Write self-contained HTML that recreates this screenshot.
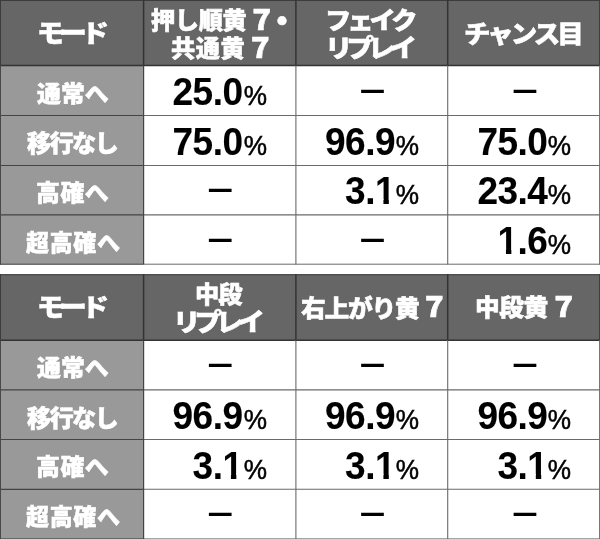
<!DOCTYPE html>
<html lang="ja"><head><meta charset="utf-8"><title>モード移行率</title><style>
html,body{margin:0;padding:0;background:#fff;}
body{width:600px;height:539px;position:relative;overflow:hidden;font-family:"Liberation Sans","Noto Sans CJK JP",sans-serif;}
svg{position:absolute;left:0;top:0;}
.c{position:absolute;left:0;top:0;}
.j{position:absolute;white-space:nowrap;line-height:1;color:#fff;font-family:"Noto Sans CJK JP","Liberation Sans",sans-serif;font-weight:900;-webkit-text-stroke:0.55px #fff;}
.v{position:absolute;white-space:nowrap;line-height:1;color:#000;font-family:"Liberation Sans","Noto Sans CJK JP",sans-serif;font-weight:700;font-size:37px;letter-spacing:-0.5px;text-align:right;-webkit-text-stroke:0.1px #000;transform:scaleY(1.035);transform-origin:100% 50%;}
.v i{font-style:normal;font-weight:400;-webkit-text-stroke:0.5px #000;display:inline-block;transform:scale(0.97,0.966);transform-origin:100% 50%;font-size:27px;letter-spacing:0;margin-left:0.1px;}
.v b{display:inline-block;font-weight:inherit;clip-path:polygon(0 0,13.9px 0,13.9px 100%,8.5px 100%,8.5px 25.7px,0 25.7px);}
.m{position:absolute;white-space:nowrap;line-height:1;color:#000;font-family:"Noto Sans CJK JP",sans-serif;font-weight:700;font-size:32px;text-align:center;width:60px;margin-left:-30px;}
</style></head><body>
<svg width="600" height="539" viewBox="0 0 600 539">
<rect x="0" y="-0.1" width="600" height="65.6" fill="#666"/>
<rect x="0" y="65.5" width="143.6" height="199.1" fill="#999"/>
<line x1="0" y1="0.4" x2="600" y2="0.4" stroke="#3c3c3c" stroke-width="1.1"/>
<line x1="0" y1="65.5" x2="600" y2="65.5" stroke="#333" stroke-width="1.5"/>
<line x1="0" y1="115.5" x2="143.6" y2="115.5" stroke="#444" stroke-width="1.2"/>
<line x1="143.6" y1="115.5" x2="600" y2="115.5" stroke="#6a6a6a" stroke-width="1.1"/>
<line x1="0" y1="165.5" x2="143.6" y2="165.5" stroke="#444" stroke-width="1.2"/>
<line x1="143.6" y1="165.5" x2="600" y2="165.5" stroke="#6a6a6a" stroke-width="1.1"/>
<line x1="0" y1="214.9" x2="143.6" y2="214.9" stroke="#444" stroke-width="1.2"/>
<line x1="143.6" y1="214.9" x2="600" y2="214.9" stroke="#6a6a6a" stroke-width="1.1"/>
<line x1="0" y1="264.2" x2="143.6" y2="264.2" stroke="#484848" stroke-width="1.0"/>
<line x1="143.6" y1="264.2" x2="600" y2="264.2" stroke="#6a6a6a" stroke-width="1.0"/>
<line x1="0.5" y1="-0.1" x2="0.5" y2="65.5" stroke="#3c3c3c" stroke-width="1.0"/>
<line x1="0.5" y1="65.5" x2="0.5" y2="264.6" stroke="#484848" stroke-width="1.0"/>
<line x1="143.6" y1="-0.1" x2="143.6" y2="65.5" stroke="#333" stroke-width="1.5"/>
<line x1="143.6" y1="65.5" x2="143.6" y2="264.6" stroke="#444" stroke-width="1.2"/>
<line x1="295.9" y1="-0.1" x2="295.9" y2="65.5" stroke="#333" stroke-width="1.5"/>
<line x1="295.9" y1="65.5" x2="295.9" y2="264.6" stroke="#6a6a6a" stroke-width="1.1"/>
<line x1="447.7" y1="-0.1" x2="447.7" y2="65.5" stroke="#333" stroke-width="1.5"/>
<line x1="447.7" y1="65.5" x2="447.7" y2="264.6" stroke="#6a6a6a" stroke-width="1.1"/>
<line x1="599.6" y1="-0.1" x2="599.6" y2="65.5" stroke="#3c3c3c" stroke-width="1.0"/>
<line x1="599.6" y1="65.5" x2="599.6" y2="264.6" stroke="#6a6a6a" stroke-width="1.0"/>
<rect x="0" y="274.2" width="600" height="66.0" fill="#666"/>
<rect x="0" y="340.2" width="143.6" height="199.1" fill="#999"/>
<line x1="0" y1="274.7" x2="600" y2="274.7" stroke="#3c3c3c" stroke-width="1.1"/>
<line x1="0" y1="340.2" x2="600" y2="340.2" stroke="#333" stroke-width="1.5"/>
<line x1="0" y1="389.9" x2="143.6" y2="389.9" stroke="#444" stroke-width="1.2"/>
<line x1="143.6" y1="389.9" x2="600" y2="389.9" stroke="#6a6a6a" stroke-width="1.1"/>
<line x1="0" y1="439.5" x2="143.6" y2="439.5" stroke="#444" stroke-width="1.2"/>
<line x1="143.6" y1="439.5" x2="600" y2="439.5" stroke="#6a6a6a" stroke-width="1.1"/>
<line x1="0" y1="489.3" x2="143.6" y2="489.3" stroke="#444" stroke-width="1.2"/>
<line x1="143.6" y1="489.3" x2="600" y2="489.3" stroke="#6a6a6a" stroke-width="1.1"/>
<line x1="0" y1="538.9" x2="143.6" y2="538.9" stroke="#484848" stroke-width="1.0"/>
<line x1="143.6" y1="538.9" x2="600" y2="538.9" stroke="#6a6a6a" stroke-width="1.0"/>
<line x1="0.5" y1="274.2" x2="0.5" y2="340.2" stroke="#3c3c3c" stroke-width="1.0"/>
<line x1="0.5" y1="340.2" x2="0.5" y2="539.3" stroke="#484848" stroke-width="1.0"/>
<line x1="143.6" y1="274.2" x2="143.6" y2="340.2" stroke="#333" stroke-width="1.5"/>
<line x1="143.6" y1="340.2" x2="143.6" y2="539.3" stroke="#444" stroke-width="1.2"/>
<line x1="295.9" y1="274.2" x2="295.9" y2="340.2" stroke="#333" stroke-width="1.5"/>
<line x1="295.9" y1="340.2" x2="295.9" y2="539.3" stroke="#6a6a6a" stroke-width="1.1"/>
<line x1="447.7" y1="274.2" x2="447.7" y2="340.2" stroke="#333" stroke-width="1.5"/>
<line x1="447.7" y1="340.2" x2="447.7" y2="539.3" stroke="#6a6a6a" stroke-width="1.1"/>
<line x1="599.6" y1="274.2" x2="599.6" y2="340.2" stroke="#3c3c3c" stroke-width="1.0"/>
<line x1="599.6" y1="340.2" x2="599.6" y2="539.3" stroke="#6a6a6a" stroke-width="1.0"/>
</svg>
<div class="c"><span class="j" style="left:37.0px;top:19px;font-size:25px;letter-spacing:-4.73px;transform:scaleX(1.1);transform-origin:0 0">モード</span></div>
<div class="c"><span class="j" style="left:150.6px;top:8px;font-size:23.3px;letter-spacing:-0.37px;transform:scaleX(1.04);transform-origin:0 0">押し順黄</span><span class="j" style="left:247.5px;top:4px;font-size:28.5px">７</span><span class="j" style="left:266.5px;top:3px;font-size:31px">・</span><br><span class="j" style="left:171.0px;top:36px;font-size:23.3px;letter-spacing:0.56px;transform:scaleX(1.04);transform-origin:0 0">共通黄</span><span class="j" style="left:246.0px;top:32px;font-size:28.5px">７</span></div>
<div class="c"><span class="j" style="left:325.0px;top:7px;font-size:24.0px;letter-spacing:-3.73px;transform:scaleX(1.1);transform-origin:0 0">フェイク</span><br><span class="j" style="left:325.0px;top:34px;font-size:25px;letter-spacing:-5.48px;transform:scaleX(1.1);transform-origin:0 0">リプレイ</span></div>
<div class="c"><span class="j" style="left:464.0px;top:21px;font-size:24.5px;letter-spacing:-2.75px;transform:scaleX(1.08);transform-origin:0 0">チャンス目</span></div>
<div class="c"><span class="j" style="left:37.0px;top:81px;font-size:23.0px;transform:scaleX(1.04);transform-origin:0 0">通常へ</span></div>
<div class="c"><span class="j" style="left:27.0px;top:131px;font-size:23.3px;letter-spacing:-1.64px;transform:scaleX(1.04);transform-origin:0 0">移行なし</span></div>
<div class="c"><span class="j" style="left:36.0px;top:180px;font-size:23.0px;letter-spacing:0.48px;transform:scaleX(1.04);transform-origin:0 0">高確へ</span></div>
<div class="c"><span class="j" style="left:26.0px;top:230px;font-size:23.0px;letter-spacing:0.67px">超高確へ</span></div>
<div class="v" style="right:333.4px;top:74.1px">25.0<i>%</i></div>
<div class="m" style="left:372.6px;top:72.7px">－</div>
<div class="m" style="left:525.0px;top:72.7px">－</div>
<div class="v" style="right:333.4px;top:123.7px">75.0<i>%</i></div>
<div class="v" style="right:180.9px;top:123.7px">96.9<i>%</i></div>
<div class="v" style="right:28.5px;top:123.7px">75.0<i>%</i></div>
<div class="m" style="left:220.3px;top:171.9px">－</div>
<div class="v" style="right:180.9px;top:173.3px">3.<b>1</b><i>%</i></div>
<div class="v" style="right:28.5px;top:173.3px">23.4<i>%</i></div>
<div class="m" style="left:220.3px;top:221.5px">－</div>
<div class="m" style="left:372.6px;top:221.5px">－</div>
<div class="v" style="right:28.5px;top:222.9px"><b>1</b>.6<i>%</i></div>
<div class="c"><span class="j" style="left:37.0px;top:293px;font-size:25px;letter-spacing:-4.73px;transform:scaleX(1.1);transform-origin:0 0">モード</span></div>
<div class="c"><span class="j" style="left:195.0px;top:282px;font-size:23.3px;letter-spacing:-1.0px;transform:scaleX(1.04);transform-origin:0 0">中段</span><br><span class="j" style="left:173.0px;top:308px;font-size:25px;letter-spacing:-5.48px;transform:scaleX(1.1);transform-origin:0 0">リプレイ</span></div>
<div class="c"><span class="j" style="left:301.0px;top:295px;font-size:23.8px;letter-spacing:-1.22px;transform:scaleX(1.04);transform-origin:0 0">右上がり黄</span><span class="j" style="left:420.0px;top:291px;font-size:28.5px">７</span></div>
<div class="c"><span class="j" style="left:475.0px;top:294px;font-size:23.8px;letter-spacing:-0.46px;transform:scaleX(1.04);transform-origin:0 0">中段黄</span><span class="j" style="left:549.5px;top:291px;font-size:28.5px">７</span></div>
<div class="c"><span class="j" style="left:37.0px;top:355px;font-size:23.0px;transform:scaleX(1.04);transform-origin:0 0">通常へ</span></div>
<div class="c"><span class="j" style="left:27.0px;top:406px;font-size:23.3px;letter-spacing:-1.64px;transform:scaleX(1.04);transform-origin:0 0">移行なし</span></div>
<div class="c"><span class="j" style="left:36.0px;top:454px;font-size:23.0px;letter-spacing:0.48px;transform:scaleX(1.04);transform-origin:0 0">高確へ</span></div>
<div class="c"><span class="j" style="left:26.0px;top:504px;font-size:23.0px;letter-spacing:0.67px">超高確へ</span></div>
<div class="m" style="left:220.3px;top:347.0px">－</div>
<div class="m" style="left:372.6px;top:347.0px">－</div>
<div class="m" style="left:525.0px;top:347.0px">－</div>
<div class="v" style="right:333.4px;top:398.0px">96.9<i>%</i></div>
<div class="v" style="right:180.9px;top:398.0px">96.9<i>%</i></div>
<div class="v" style="right:28.5px;top:398.0px">96.9<i>%</i></div>
<div class="v" style="right:333.4px;top:447.6px">3.<b>1</b><i>%</i></div>
<div class="v" style="right:180.9px;top:447.6px">3.<b>1</b><i>%</i></div>
<div class="v" style="right:28.5px;top:447.6px">3.<b>1</b><i>%</i></div>
<div class="m" style="left:220.3px;top:495.8px">－</div>
<div class="m" style="left:372.6px;top:495.8px">－</div>
<div class="m" style="left:525.0px;top:495.8px">－</div>
</body></html>
